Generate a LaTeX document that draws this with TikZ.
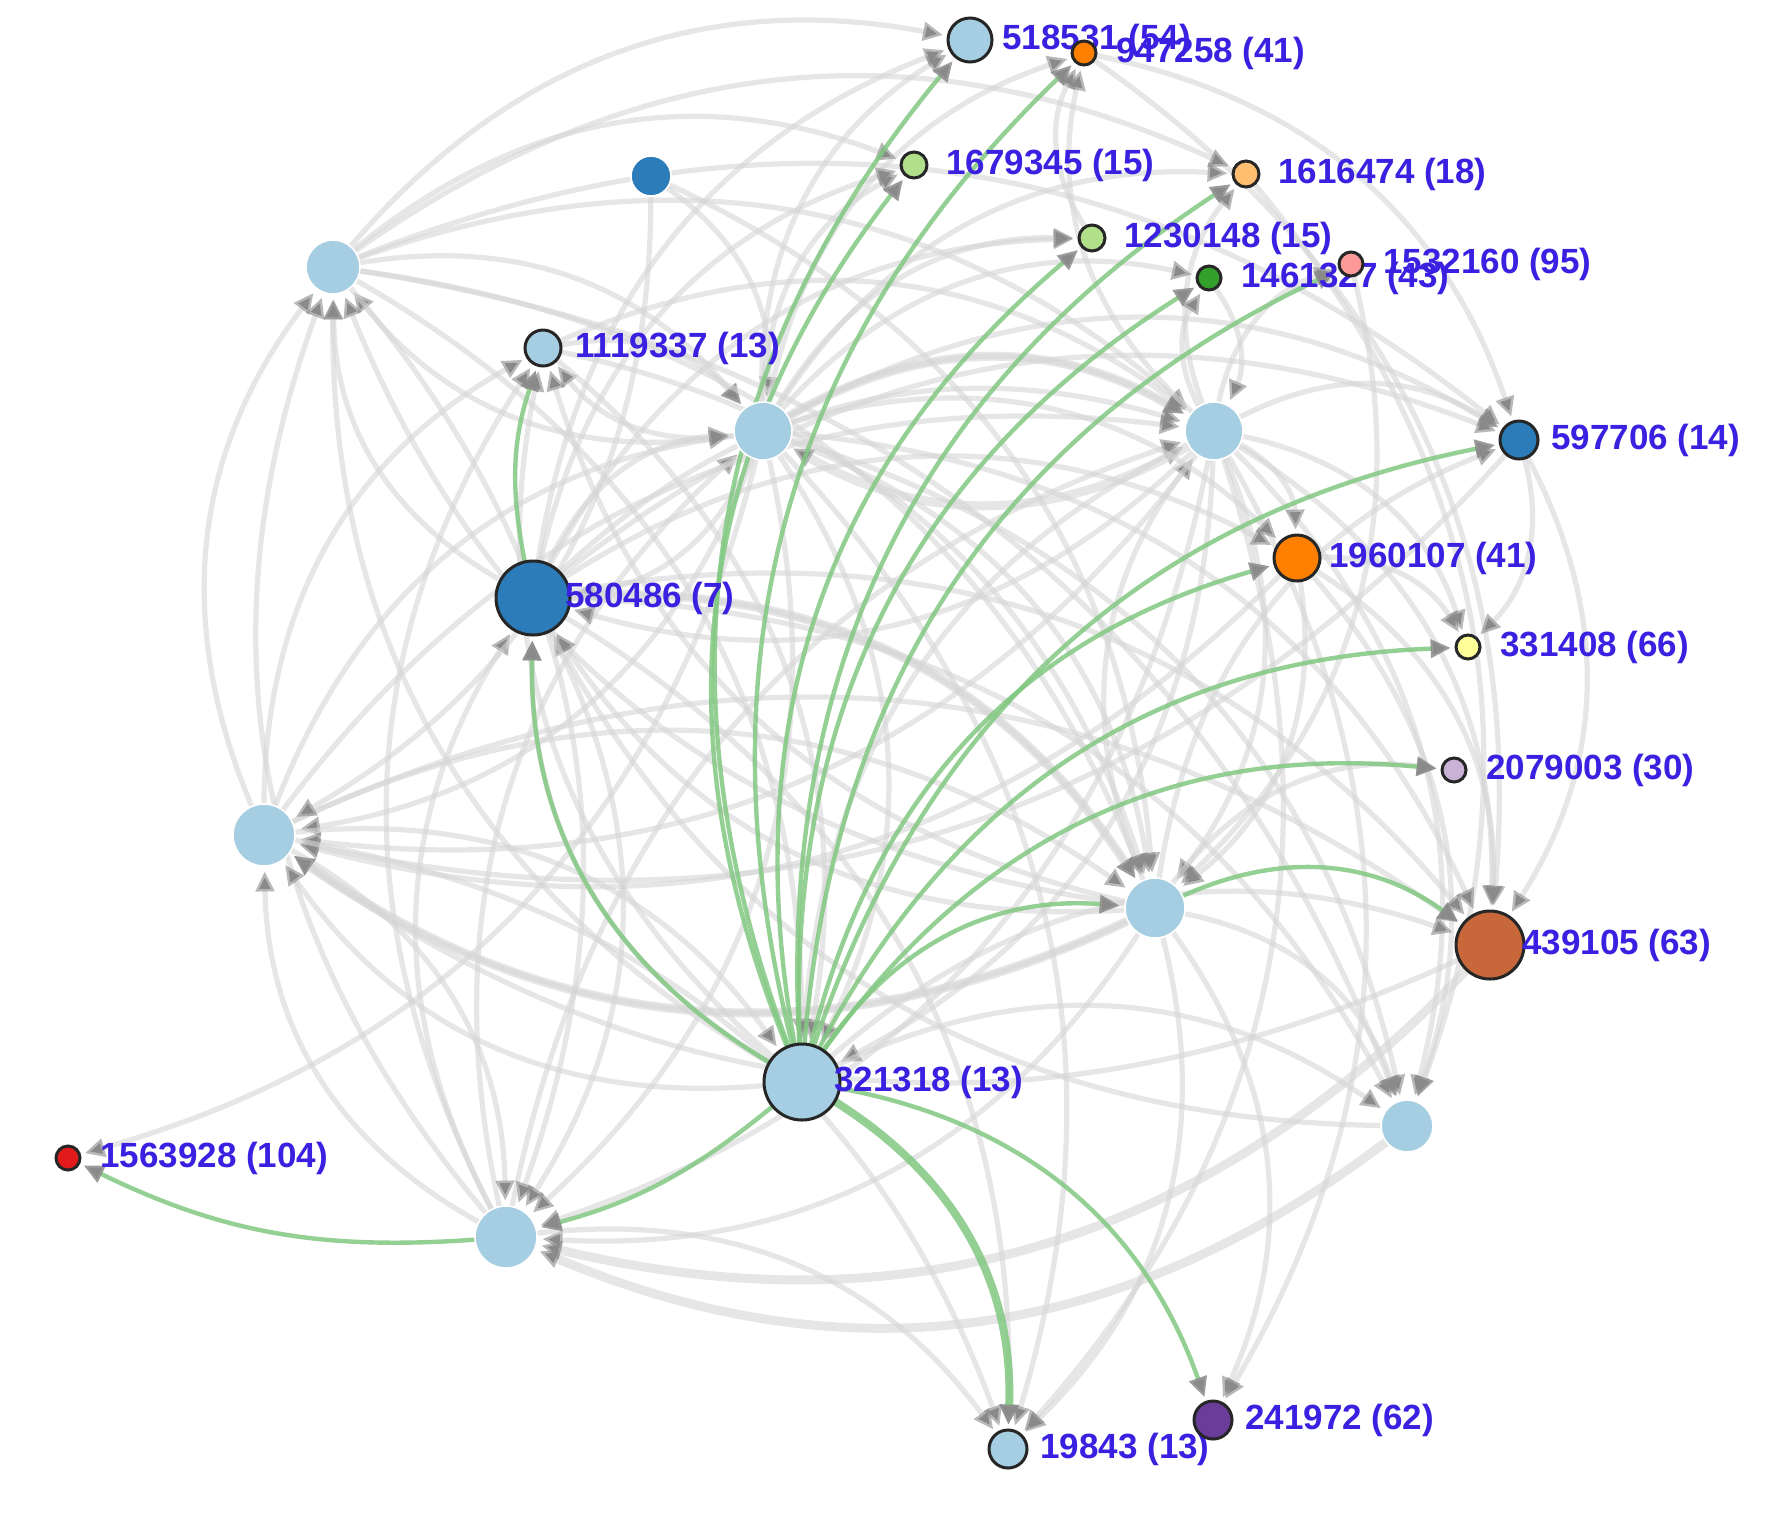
\documentclass[tikz,border=0pt]{standalone}
\usepackage{fontspec}
\setmainfont{Liberation Sans}
\usetikzlibrary{arrows.meta}
\definecolor{lbl}{HTML}{A6CEE3}
\definecolor{dbl}{HTML}{2B7CB9}
\definecolor{org}{HTML}{FF7F00}
\definecolor{lgr}{HTML}{B2DF8A}
\definecolor{lor}{HTML}{FDBF6F}
\definecolor{pnk}{HTML}{FB9A99}
\definecolor{grn}{HTML}{33A02C}
\definecolor{yel}{HTML}{FFFF99}
\definecolor{lav}{HTML}{CAB2D6}
\definecolor{pur}{HTML}{6A3D9A}
\definecolor{redn}{HTML}{E31A1C}
\definecolor{brn}{HTML}{C8683A}
\definecolor{labc}{HTML}{3A20E0}
\definecolor{edgegray}{HTML}{D6D6D6}
\definecolor{tipgray}{HTML}{8A8A8A}
\definecolor{pathgreen}{HTML}{82C882}
\begin{document}
\begin{tikzpicture}[x=0.5pt,y=-0.5pt,
  vtx/.style={circle,inner sep=0pt,minimum size=#1},
  plain/.style={fill=lbl,draw=white,line width=0.8pt},
  ringed/.style={draw=black!85,line width=1.5pt},
  lab/.style={anchor=west,text=labc,inner sep=0pt,font=\bfseries\fontsize{17.5}{18}\selectfont},
  bnd/.style={bend left=#1},
  gedge/.style={draw=edgegray,line width=2.6pt,draw opacity=0.6,shorten >=2.5pt,
    -{Triangle[length=10pt,width=9pt,color=tipgray]}},
  pedge/.style={draw=pathgreen,line width=2.2pt,draw opacity=0.85,shorten >=2.5pt,
    -{Triangle[length=10pt,width=9pt,color=tipgray]}}
]
\useasboundingbox[fill=white] (0,0) rectangle (1780,1516);
% vertex positions (invisible anchors first so edges can refer to them)
\path
 (970,40)   node[vtx=22pt] (n518) {}
 (1084,53)  node[vtx=12pt] (n947) {}
 (914,165)  node[vtx=13pt] (n1679) {}
 (1246,174) node[vtx=13pt] (n1616) {}
 (1092,238) node[vtx=13pt] (n1230) {}
 (1351,264) node[vtx=12pt] (n1532) {}
 (1209,278) node[vtx=12pt] (n1461) {}
 (651,176)  node[vtx=20pt] (u1) {}
 (333,267)  node[vtx=27pt] (tl) {}
 (543,348)  node[vtx=18pt] (n1119) {}
 (763,431)  node[vtx=29pt] (la) {}
 (1214,431) node[vtx=29pt] (lb) {}
 (1519,440) node[vtx=19pt] (n597) {}
 (1297,558) node[vtx=23pt] (n1960) {}
 (533,598)  node[vtx=37pt] (n580) {}
 (1468,647) node[vtx=12pt] (n331) {}
 (1454,770) node[vtx=12pt] (n2079) {}
 (264,835)  node[vtx=31pt] (ll) {}
 (1155,908) node[vtx=30pt] (lc) {}
 (1490,945) node[vtx=34pt] (n439) {}
 (802,1082) node[vtx=38pt] (n321) {}
 (1407,1126) node[vtx=26pt] (ld) {}
 (68,1158)  node[vtx=12pt] (n1563) {}
 (506,1237) node[vtx=31pt] (le) {}
 (1008,1449) node[vtx=19pt] (n198) {}
 (1213,1420) node[vtx=19pt] (n241) {};
% grey edges
\foreach \s/\t in {ll/tl,le/tl,n580/tl,n321/tl,lc/tl,la/tl,
  ll/n1119,le/n1119,n321/n1119,lc/n1119,la/n1119,
  tl/la,ll/la,n580/la,le/la,n1119/la,u1/la,
  la/lb,n580/lb,tl/lb,ll/lb,n321/lb,le/lb,lc/lb,n1119/lb,n1461/lb,
  la/n580,n321/n580,lb/n580,lc/n580,le/n580,ld/n580,
  la/ll,lb/ll,n1960/ll,lc/ll,n439/ll,n321/ll,le/ll,n597/ll,
  ll/le,tl/le,n580/le,lc/le,lb/le,la/le,
  ll/n321,la/n321,lb/n321,n1119/n321,tl/n321,
  la/lc,n580/lc,tl/lc,lb/lc,n1119/lc,ll/lc,n1960/lc,n1532/lc,
  la/ld,lb/ld,n580/ld,lc/ld,n321/ld,n1960/ld,tl/ld,n1616/ld,
  la/n439,lb/n439,n580/n439,ll/n439,n321/n439,n1960/n439,n597/n439,n947/n439,
  la/n198,lb/n198,lc/n198,n580/n198,le/n198,ll/n198,
  lc/n241,lb/n241,
  lb/n597,la/n597,n580/n597,lc/n597,tl/n597,n947/n597,
  lb/n1960,la/n1960,n580/n1960,
  lb/n331,n1960/n331,n597/n331,
  lc/n2079,
  la/n518,n580/n518,tl/n518,
  la/n947,lb/n947,n1230/n947,
  la/n1679,n580/n1679,tl/n1679,
  lb/n1616,la/n1616,tl/n1616,
  la/n1230,n580/n1230,
  lb/n1461,la/n1461,
  lb/n1532,la/n1563,u1/ll,u1/lc}
  {\draw[gedge] (\s) to[bnd=30] (\t);}
\foreach \s/\t in {lb/la,ld/le,n439/le,lc/ll,la/lb,n580/lc}
  {\draw[gedge,line width=4.5pt] (\s) to[bnd=30] (\t);}
% green path edges
\foreach \t in {n518,n1679,n947,n1230,n1616,n1461,n1532,n597,n1960,n331,n2079,lc,n580,n241}
  {\draw[pedge] (n321) to[bnd=30] (\t);}
\draw[pedge,line width=4pt] (n321) to[bnd=30] (n198);
\draw[pedge] (lc) to[bnd=30] (n439);
\draw[pedge] (n580) to[bnd=15] (n1119);
\draw[pedge] (n321) to[bnd=12] (le);
\draw[pedge] (le) to[bnd=15] (n1563);
% vertices drawn on top
\node[vtx=22pt,fill=lbl,ringed] at (n518) {};
\node[lab] at (1002,40) {518531 (54)};
\node[vtx=12pt,fill=org,ringed] at (n947) {};
\node[lab] at (1116,53) {947258 (41)};
\node[vtx=13pt,fill=lgr,ringed] at (n1679) {};
\node[lab] at (946,165) {1679345 (15)};
\node[vtx=13pt,fill=lor,ringed] at (n1616) {};
\node[lab] at (1278,174) {1616474 (18)};
\node[vtx=13pt,fill=lgr,ringed] at (n1230) {};
\node[lab] at (1124,238) {1230148 (15)};
\node[vtx=12pt,fill=grn,ringed] at (n1461) {};
\node[lab] at (1241,278) {1461327 (43)};
\node[vtx=12pt,fill=pnk,ringed] at (n1532) {};
\node[lab] at (1383,264) {1532160 (95)};
\node[vtx=20pt,fill=dbl,draw=white,line width=0.8pt] at (u1) {};
\node[vtx=27pt,plain] at (tl) {};
\node[vtx=18pt,fill=lbl,ringed] at (n1119) {};
\node[lab] at (575,348) {1119337 (13)};
\node[vtx=29pt,plain] at (la) {};
\node[vtx=29pt,plain] at (lb) {};
\node[vtx=19pt,fill=dbl,ringed] at (n597) {};
\node[lab] at (1551,440) {597706 (14)};
\node[vtx=23pt,fill=org,ringed] at (n1960) {};
\node[lab] at (1329,558) {1960107 (41)};
\node[vtx=37pt,fill=dbl,ringed] at (n580) {};
\node[lab] at (565,598) {580486 (7)};
\node[vtx=12pt,fill=yel,ringed] at (n331) {};
\node[lab] at (1500,647) {331408 (66)};
\node[vtx=12pt,fill=lav,ringed] at (n2079) {};
\node[lab] at (1486,770) {2079003 (30)};
\node[vtx=31pt,plain] at (ll) {};
\node[vtx=30pt,plain] at (lc) {};
\node[vtx=34pt,fill=brn,ringed] at (n439) {};
\node[lab] at (1522,945) {439105 (63)};
\node[vtx=38pt,fill=lbl,ringed] at (n321) {};
\node[lab] at (834,1082) {321318 (13)};
\node[vtx=26pt,plain] at (ld) {};
\node[vtx=12pt,fill=redn,ringed] at (n1563) {};
\node[lab] at (100,1158) {1563928 (104)};
\node[vtx=31pt,plain] at (le) {};
\node[vtx=19pt,fill=lbl,ringed] at (n198) {};
\node[lab] at (1040,1449) {19843 (13)};
\node[vtx=19pt,fill=pur,ringed] at (n241) {};
\node[lab] at (1245,1420) {241972 (62)};
\end{tikzpicture}
\end{document}
